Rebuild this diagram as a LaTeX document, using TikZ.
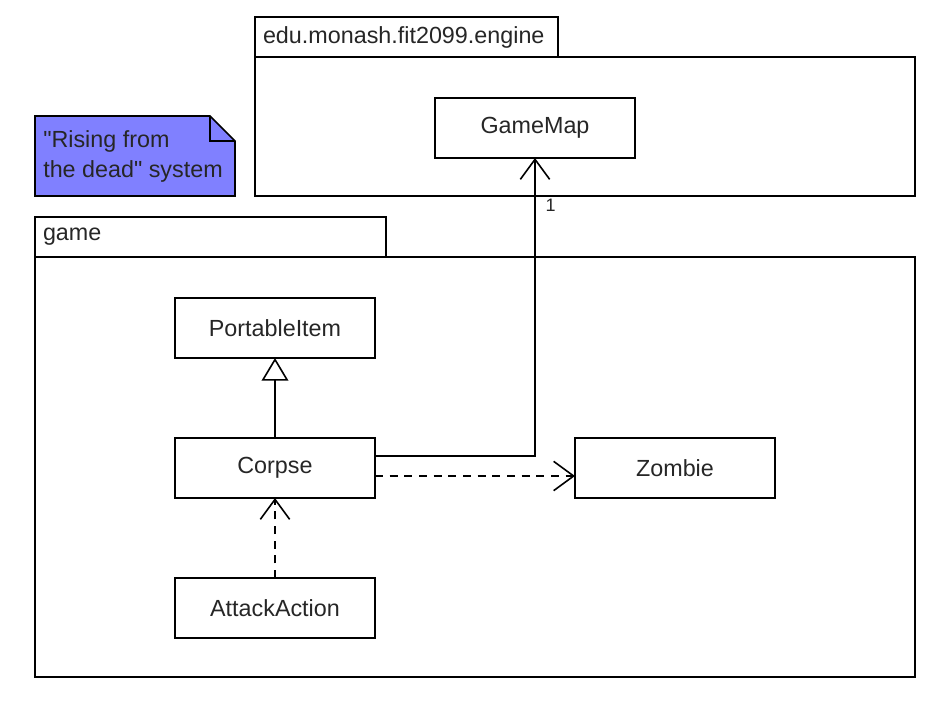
\documentclass[tikz,border=0pt]{standalone}
\usepackage{fontspec}
\setmainfont{Liberation Sans}[Ligatures=TeXOff]
\usetikzlibrary{positioning,arrows.meta,calc}

\definecolor{notefill}{HTML}{8080FF}

\begin{document}
\begin{tikzpicture}[
    x=0.75pt, y=-0.75pt,
    every node/.style={font=\fontsize{17.5}{22.5}\selectfont, text=black!85},
    classbox/.style={draw, line width=1.2pt, minimum width=150pt, minimum height=45pt, inner sep=0pt, outer sep=0pt, text centered},
    pkgbody/.style={draw, line width=1.2pt, inner sep=0pt, outer sep=0pt},
    pkgtab/.style={draw, line width=1.2pt, minimum height=30pt, inner xsep=6pt, inner ysep=0pt, outer sep=0pt, align=left, anchor=south west},
    assoc/.style={line width=1.2pt, -{Straight Barb[length=15pt, width=22pt, line width=1.2pt]}},
    depend/.style={assoc, dash pattern=on 6pt off 5pt},
    inherit/.style={line width=1.2pt, -{Triangle[open, length=17pt, width=20pt, line width=1.2pt, fill=white]}},
    mult/.style={font=\fontsize{13.5}{15}\selectfont},
]
\useasboundingbox (0,0) rectangle (946,700);

% ---- Package: engine ----
\node[pkgbody, minimum width=495pt, minimum height=104.25pt] (engine) at (585,126.5) {};
\node[pkgtab, text width=215.25pt] (enginetab) at (engine.north west) {edu.monash.fit2099.engine};
\node[classbox] (gamemap) at (535,128) {GameMap};

% ---- Note ----
\draw[line width=1.2pt, fill=notefill] (35,116) -- (210,116) -- (235,141) -- (235,196) -- (35,196) -- cycle;
\draw[line width=1.2pt] (210,116) -- (210,141) -- (235,141);
\node[align=left, anchor=west, inner sep=0pt] (note) at (43,156) {"Rising from\\the dead" system};

% ---- Package: game ----
\node[pkgbody, minimum width=660pt, minimum height=315pt] (game) at (475,467) {};
\node[pkgtab, text width=251.25pt] (gametab) at (game.north west) {game};

\node[classbox] (portable) at (275,328) {PortableItem};
\node[classbox, below=60pt of portable] (corpse) {Corpse};
\node[classbox, below=60pt of corpse] (attack) {AttackAction};
\node[classbox, right=150pt of corpse] (zombie) {Zombie};

% ---- Relations ----
\draw[inherit] (corpse) -- (portable);
\draw[assoc] ([yshift=9pt]corpse.east) -| (gamemap.south)
    node[mult, pos=0.92, anchor=west, xshift=4pt] (mult1) {1};
\draw[depend] ([yshift=-6pt]corpse.east) -- ([yshift=-6pt]zombie.west);
\draw[depend] (attack) -- (corpse);

\end{tikzpicture}
\end{document}
